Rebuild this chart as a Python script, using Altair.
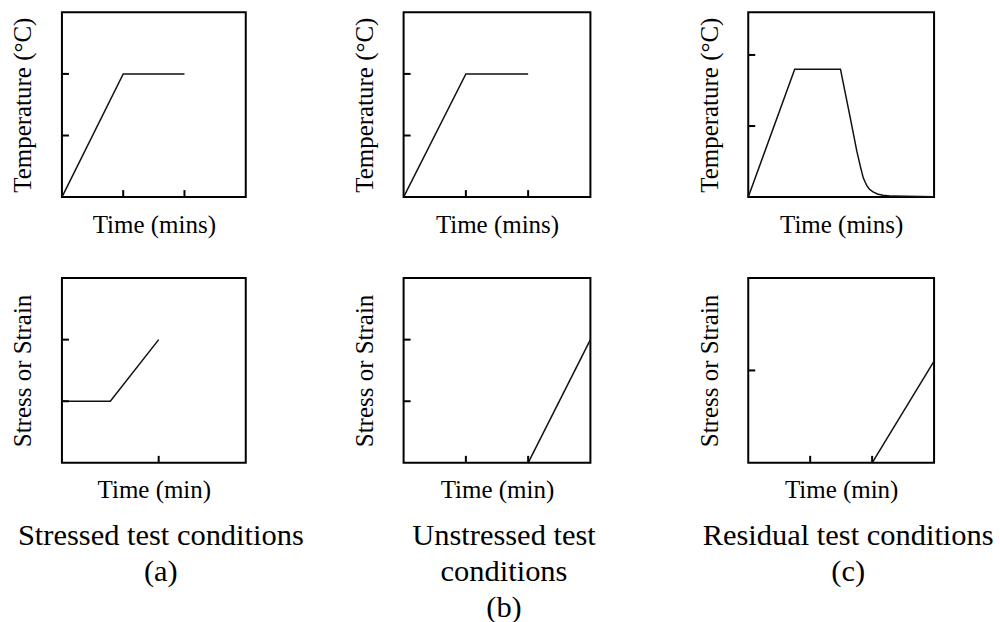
import altair as alt
import pandas as pd

FONT = "Liberation Serif"

# ---- data ----
a_top_x = [0, 1, 2]
a_top_y = [0, 2, 2]
b_top_x = [0, 1, 2]
b_top_y = [0, 2, 2]
c_top_x = [0, 1, 1.985, 2.196, 2.337, 2.421, 2.476, 2.52, 2.56, 2.61, 2.686, 2.78, 2.897, 3.1, 4.0]
c_top_y = [0, 1.8, 1.8, 1.115, 0.646, 0.412, 0.271, 0.205, 0.155, 0.11, 0.074, 0.045, 0.026, 0.014, 0.005]
a_bot_x = [0, 1, 2]
a_bot_y = [1, 1, 2]
b_bot_x = [2, 3]
b_bot_y = [0, 2]
c_bot_x = [2, 3]
c_bot_y = [0, 1.1]

# axis domains and tick values
a_top_xdom, a_top_ydom, a_top_xticks, a_top_yticks = [0, 3], [0, 3], [1, 2], [1, 2]
b_top_xdom, b_top_ydom, b_top_xticks, b_top_yticks = [0, 3], [0, 3], [1, 2], [1, 2]
c_top_xdom, c_top_ydom, c_top_xticks, c_top_yticks = [0, 4], [0, 2.6], [], [1, 2]
a_bot_xdom, a_bot_ydom, a_bot_xticks, a_bot_yticks = [0, 3.8], [0, 3], [2], [1, 2]
b_bot_xdom, b_bot_ydom, b_bot_xticks, b_bot_yticks = [0, 3], [0, 3], [1, 2], [1, 2]
c_bot_xdom, c_bot_ydom, c_bot_xticks, c_bot_yticks = [0, 3], [0, 2], [1, 2], [1]

top_xtitle = "Time (mins)"
top_ytitle = "Temperature (°C)"
bot_xtitle = "Time (min)"
bot_ytitle = "Stress or Strain"

captions = [
    ["Stressed test conditions", "(a)"],
    ["Unstressed test", "conditions", "(b)"],
    ["Residual test conditions", "(c)"],
]

col_widths = [184, 187, 186]
H = 185
TICK = 7


def panel(xs, ys, xdom, ydom, xticks, yticks, xtitle, ytitle, w, caption=None):
    xsc = alt.Scale(domain=xdom, nice=False, zero=False)
    ysc = alt.Scale(domain=ydom, nice=False, zero=False)
    common = dict(domain=False, ticks=False, labels=False, grid=False,
                  titleFont=FONT, titleFontSize=25, titleFontWeight="normal",
                  titleColor="black")
    xax = alt.Axis(title=xtitle, titlePadding=15, **common)
    yax = alt.Axis(title=ytitle, titlePadding=26, **common)
    df = pd.DataFrame({"t": xs, "v": ys})
    line = alt.Chart(df).mark_line(color="#111111", strokeWidth=1.5).encode(
        x=alt.X("t:Q", scale=xsc, axis=xax),
        y=alt.Y("v:Q", scale=ysc, axis=yax),
    )
    layers = [line]
    if yticks:
        lt = alt.Chart(pd.DataFrame({"v": yticks})).mark_rule(color="black", strokeWidth=2).encode(
            y=alt.Y("v:Q", scale=ysc, axis=yax),
            x=alt.value(0), x2=alt.value(TICK),
        )
        layers.append(lt)
    if xticks:
        bt = alt.Chart(pd.DataFrame({"t": xticks})).mark_rule(color="black", strokeWidth=2).encode(
            x=alt.X("t:Q", scale=xsc, axis=xax),
            y=alt.value(H), y2=alt.value(H - TICK),
        )
        layers.append(bt)
    ch = alt.layer(*layers).properties(width=w, height=H)
    if caption is not None:
        ch = ch.properties(title=alt.TitleParams(
            text=caption, orient="bottom", anchor="middle", frame="group",
            font=FONT, fontSize=30.5, fontWeight="normal", color="black",
            lineHeight=36, offset=18, dx=7))
    return ch


charts = [
    panel(a_top_x, a_top_y, a_top_xdom, a_top_ydom, a_top_xticks, a_top_yticks, top_xtitle, top_ytitle, col_widths[0]),
    panel(b_top_x, b_top_y, b_top_xdom, b_top_ydom, b_top_xticks, b_top_yticks, top_xtitle, top_ytitle, col_widths[1]),
    panel(c_top_x, c_top_y, c_top_xdom, c_top_ydom, c_top_xticks, c_top_yticks, top_xtitle, top_ytitle, col_widths[2]),
    panel(a_bot_x, a_bot_y, a_bot_xdom, a_bot_ydom, a_bot_xticks, a_bot_yticks, bot_xtitle, bot_ytitle, col_widths[0], captions[0]),
    panel(b_bot_x, b_bot_y, b_bot_xdom, b_bot_ydom, b_bot_xticks, b_bot_yticks, bot_xtitle, bot_ytitle, col_widths[1], captions[1]),
    panel(c_bot_x, c_bot_y, c_bot_xdom, c_bot_ydom, c_bot_xticks, c_bot_yticks, bot_xtitle, bot_ytitle, col_widths[2], captions[2]),
]

chart = alt.concat(*charts, columns=3, spacing={"row": 81, "column": 158}).properties(
    bounds="flush",
    padding={"left": 10, "top": 11, "right": 5, "bottom": 5},
    background="white",
).configure_view(stroke="black", strokeWidth=2)

chart.save("out.html", embed_options={"renderer": "svg", "actions": False})
